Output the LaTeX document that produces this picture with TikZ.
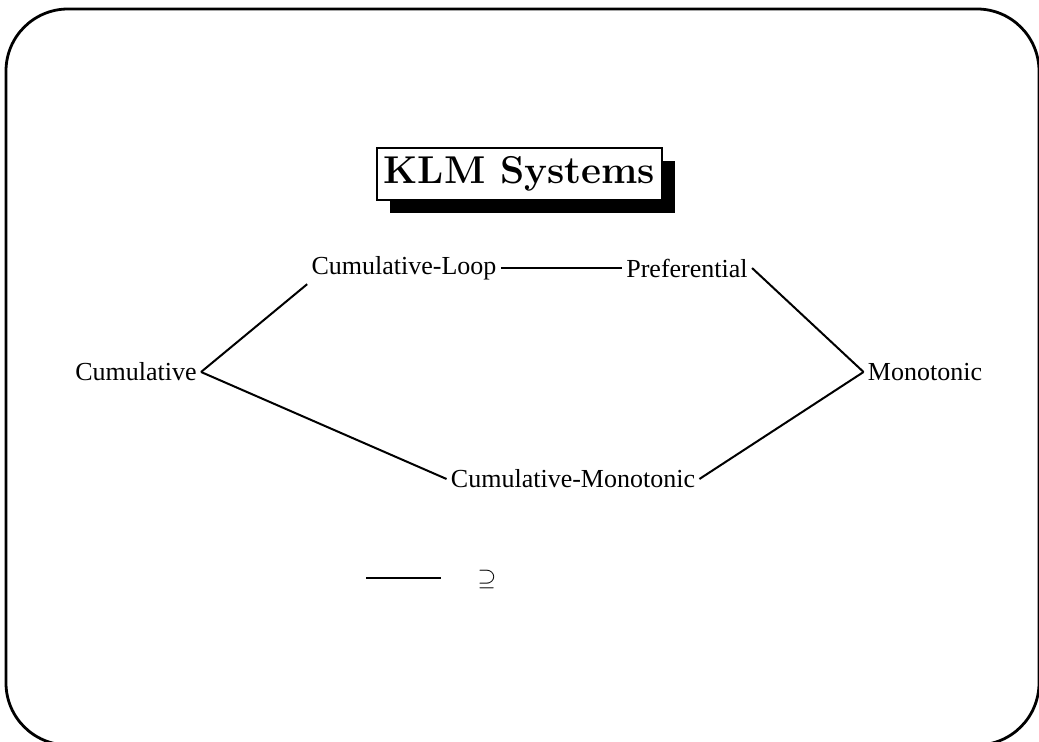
\documentclass[tikz,border=0pt]{standalone}
\usepackage{fontspec}
\newfontfamily\timesfont{Liberation Serif}
\usepackage{tikz}
\usetikzlibrary{shadows}
\tikzstyle{sys}=[
  inner sep=2pt,
  font=\timesfont\fontsize{13}{15}\selectfont
]
\tikzstyle{incl}=[
  line width=1pt
]
\tikzstyle{heading}=[
  draw,
  fill=white,
  line width=0.8pt,
  inner xsep=3.5pt,
  inner ysep=4.4pt,
  font=\bfseries\fontsize{19.4}{23}\selectfont,
  drop shadow={shadow xshift=6.5pt, shadow yshift=-6.5pt, fill=black, opacity=1}
]

\begin{document}
\begin{tikzpicture}[x=0.5pt, y=-0.5pt]
  \useasboundingbox (0,0) rectangle (1039,742);
  \draw[line width=1.4pt, rounded corners=31pt] (6,9) rectangle (1039,745);

  \node[heading] (title) at (519.5, 174) {KLM Systems};

  \node[sys] (cl)   at (404, 268) {Cumulative-Loop};
  \node[sys] (pref) at (687, 268) {Preferential};
  \node[sys] (cum)  at (136, 372) {Cumulative};
  \node[sys] (mono) at (925, 372) {Monotonic};
  \node[sys] (cm)   at (573, 479) {Cumulative-Monotonic};

  \draw[incl] (cl.east) -- (pref.west);
  \draw[incl] (cum.east) -- (cl.south west);
  \draw[incl] (cum.east) -- (cm.west);
  \draw[incl] (pref.east) -- (mono.west);
  \draw[incl] (cm.east) -- (mono.west);

  % legend
  \coordinate (la) at (366, 578);
  \coordinate (lb) at (441, 578);
  \draw[incl] (la) -- (lb);
  \node[sys] (sym) at (487, 580) {$\supseteq$};
\end{tikzpicture}
\end{document}
